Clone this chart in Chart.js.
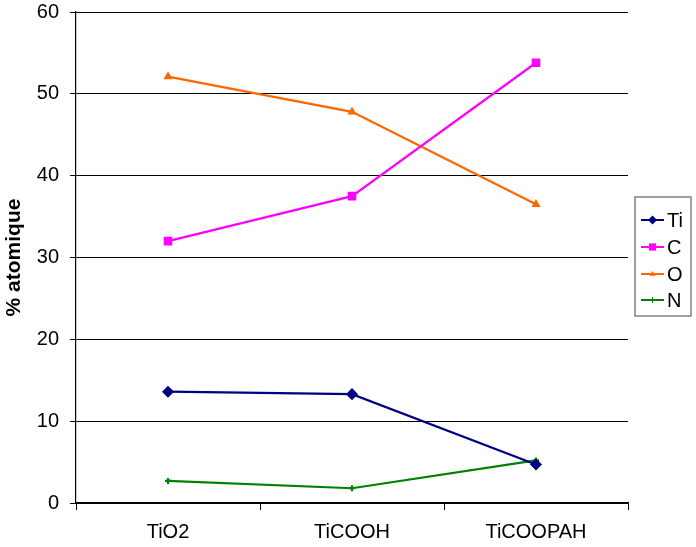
<!DOCTYPE html>
<html><head><meta charset="utf-8">
<script src="https://cdn.jsdelivr.net/npm/chart.js@4/dist/chart.umd.min.js"></script>
<style>html,body{margin:0;padding:0;background:#fff;}#wrap{width:696px;height:547px;}</style>
</head><body><div id="wrap"><canvas id="c" width="696" height="547"></canvas></div>
<script>
const categories = ['TiO2', 'TiCOOH', 'TiCOOPAH'];
const tiValues = [13.6, 13.3, 4.7];
const cValues = [32.0, 37.5, 53.8];
const oValues = [52.1, 47.8, 36.5];
const nValues = [2.7, 1.8, 5.2];
const yTicks = [0, 10, 20, 30, 40, 50, 60];

const FONT = 'Liberation Sans, Arial, sans-serif';
const TICK_SIZE = 20;

const legendBox = {
  id: 'legendBox',
  afterDraw(chart) {
    const ctx = chart.ctx;
    const x0 = 635, y0 = 197, w = 56, h = 119;
    ctx.save();
    ctx.strokeStyle = '#808080';
    ctx.lineWidth = 1.5;
    ctx.strokeRect(x0, y0, w, h);
    const rowsY = [220, 247, 274, 300];
    chart.data.datasets.forEach((ds, i) => {
      const y = rowsY[i];
      ctx.strokeStyle = ds.borderColor;
      ctx.lineWidth = 2;
      ctx.beginPath(); ctx.moveTo(641, y); ctx.lineTo(664, y); ctx.stroke();
      ctx.fillStyle = ds.pointBackgroundColor;
      ctx.strokeStyle = ds.borderColor;
      const cx = 652.5, r = ds.pointRadius;
      ctx.beginPath();
      if (ds.pointStyle === 'rectRot') {
        ctx.moveTo(cx, y - r); ctx.lineTo(cx + r, y); ctx.lineTo(cx, y + r); ctx.lineTo(cx - r, y); ctx.closePath(); ctx.fill();
      } else if (ds.pointStyle === 'rect') {
        ctx.rect(cx - r * 0.8, y - r * 0.8, r * 1.6, r * 1.6); ctx.fill();
      } else if (ds.pointStyle === 'triangle') {
        ctx.moveTo(cx, y - r); ctx.lineTo(cx + r, y + r * 0.6); ctx.lineTo(cx - r, y + r * 0.6); ctx.closePath(); ctx.fill();
      } else {
        ctx.lineWidth = 1;
        ctx.moveTo(cx - r, y); ctx.lineTo(cx + r, y);
        ctx.moveTo(cx, y - r); ctx.lineTo(cx, y + r); ctx.stroke();
      }
      ctx.fillStyle = '#000';
      ctx.font = TICK_SIZE + 'px ' + FONT;
      ctx.textBaseline = 'middle';
      ctx.textAlign = 'left';
      ctx.fillText(ds.label, 667, y + 1);
    });
    ctx.restore();
  }
};

new Chart(document.getElementById('c'), {
  type: 'line',
  data: {
    labels: categories,
    datasets: [
      { label: 'Ti', data: tiValues, borderColor: '#000080', backgroundColor: '#000080', pointBackgroundColor: '#000080', pointBorderColor: '#000080', pointStyle: 'rectRot', pointRadius: 4.5, borderWidth: 2.2 },
      { label: 'C', data: cValues, borderColor: '#FF00FF', backgroundColor: '#FF00FF', pointBackgroundColor: '#FF00FF', pointBorderColor: '#FF00FF', pointStyle: 'rect', pointRadius: 4.5, borderWidth: 2.2 },
      { label: 'O', data: oValues, borderColor: '#FF6600', backgroundColor: '#FF6600', pointBackgroundColor: '#FF6600', pointBorderColor: '#FF6600', pointStyle: 'triangle', pointRadius: 3, borderWidth: 2.2 },
      { label: 'N', data: nValues, borderColor: '#008000', backgroundColor: '#008000', pointBackgroundColor: '#008000', pointBorderColor: '#008000', pointStyle: 'cross', pointRadius: 3, borderWidth: 2.2 }
    ]
  },
  options: {
    responsive: false,
    animation: false,
    layout: { padding: { left: 0, top: 12, right: 68, bottom: 0 } },
    plugins: { legend: { display: false }, tooltip: { enabled: false } },
    elements: { line: { tension: 0 } },
    scales: {
      x: {
        offset: true,
        grid: { display: true, drawOnChartArea: false, color: '#000', tickLength: 7, offset: true },
        border: { display: true, color: '#000', width: 1.2 },
        ticks: { color: '#000', font: { family: FONT, size: TICK_SIZE }, padding: 10, maxRotation: 0 },
        afterFit(scale) { scale.height = 44; scale.paddingLeft = 0; scale.paddingRight = 0; }
      },
      y: {
        min: 0, max: 60,
        afterBuildTicks(scale) { scale.ticks = yTicks.map(v => ({ value: v })); },
        grid: { color: '#000', lineWidth: 1, tickLength: 6 },
        border: { display: true, color: '#000', width: 1.2 },
        ticks: { color: '#000', font: { family: FONT, size: TICK_SIZE }, padding: 11 },
        title: { display: true, text: '% atomique', color: '#000', font: { family: FONT, size: 21, weight: 'bold' }, padding: { top: 2, bottom: 0 } },
        afterFit(scale) { scale.width = 76; scale.paddingTop = 0; scale.paddingBottom = 0; }
      }
    }
  },
  plugins: [legendBox]
});
</script>
</body></html>
